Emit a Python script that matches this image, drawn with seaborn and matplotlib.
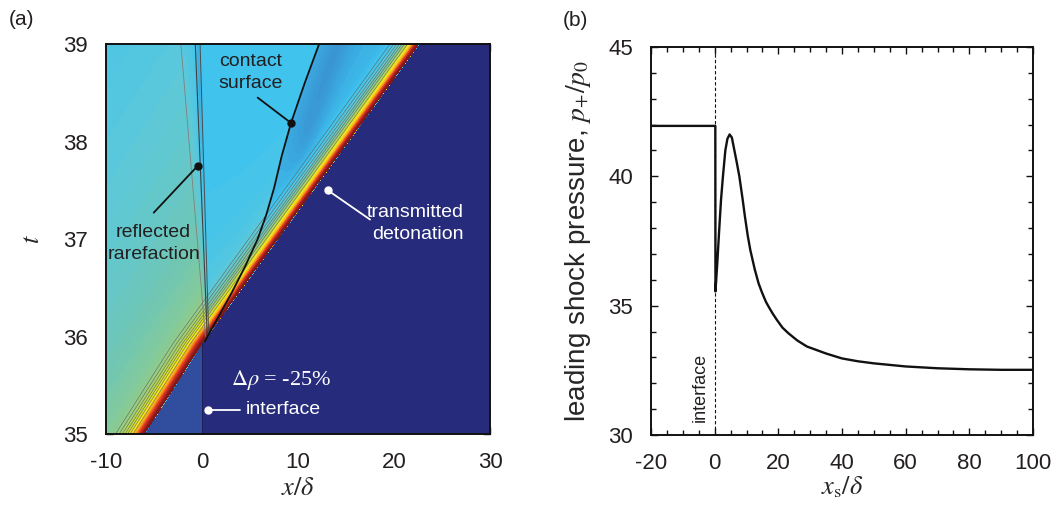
import numpy as np
import matplotlib
matplotlib.use("Agg")
import matplotlib.pyplot as plt
from matplotlib.colors import LinearSegmentedColormap
from matplotlib.ticker import MultipleLocator
import seaborn as sns

# ---------------- Panel (a): x-t diagram ----------
shock_t = [35.0, 35.93, 39.0]
shock_x = [-6.0, 0.0, 22.6]
contact_t = [35.95, 36.2, 36.45, 36.72, 37.0, 37.25, 37.52, 37.85, 38.19, 38.6, 39.0]
contact_x = [0.3, 1.7, 3.1, 4.5, 5.8, 6.7, 7.5, 8.3, 9.27, 10.7, 12.2]
rare_t = [36.0, 39.0]
rare_head_x = [0.35, -2.2]
rare_tail1_x = [0.55, -0.7]
rare_tail2_x = [0.7, -0.2]

# field levels of the colour map (normalised)
unburned_right = 0.0
unburned_left = 0.10
burned_far = 0.30
burned_mid = 0.31
burned_right = 0.26

# ---------------- Panel (b): leading shock pressure ------------------------------
xs_vals = [-20, 0.2, 0.25, 0.8, 1.36, 2.0, 2.6, 3.35, 4.0, 4.7, 5.4, 6.2, 7.0,
           7.75, 8.8, 9.5, 10.4, 11.2, 12.6, 13.8, 14.9, 16.1, 17.0, 18.3, 19.6,
           21.3, 23.2, 26.0, 29.0, 35.0, 40.0, 45.0, 50.0, 60.0, 70.0, 80.0, 90.0,
           100.0]
p_vals = [41.95, 41.95, 35.55, 36.6, 37.8, 39.1, 40.0, 41.0, 41.45, 41.62, 41.5,
          41.0, 40.5, 40.0, 39.1, 38.45, 37.7, 37.15, 36.4, 35.86, 35.5, 35.15,
          34.95, 34.68, 34.44, 34.15, 33.93, 33.65, 33.42, 33.15, 32.96, 32.85,
          32.77, 32.65, 32.58, 32.54, 32.52, 32.52]

sns.set_theme(style="ticks")
plt.rcParams["font.family"] = ["Liberation Sans", "DejaVu Sans"]
plt.rcParams["mathtext.fontset"] = "stix"
plt.rcParams["text.color"] = "#231f20"
plt.rcParams["axes.unicode_minus"] = False

fig = plt.figure(figsize=(10.62, 5.11), dpi=100)
ax1 = fig.add_axes([106/1062, 1-434/511, 384/1062, 390/511])
ax2 = fig.add_axes([651/1062, 1-435/511, 382/1062, 388/511])

# colour map built to mimic the reference palette
anchors = [(0.00, "#262a7a"), (0.06, "#2d3d93"), (0.10, "#3050a0"),
           (0.20, "#3a8fcc"), (0.25, "#3aa6df"), (0.31, "#3ec3ee"),
           (0.37, "#5cc8da"), (0.43, "#6ec6b6"), (0.51, "#90cb8a"),
           (0.61, "#c8da3a"), (0.70, "#f4e61a"), (0.80, "#f5a020"),
           (0.88, "#e63a20"), (0.95, "#a82020"), (1.00, "#7a1818")]
cmap = LinearSegmentedColormap.from_list("det", anchors)

x = np.linspace(-10, 30, 801)
t = np.linspace(35, 39, 401)
X, T = np.meshgrid(x, t)
XS = np.interp(T, shock_t, shock_x)
d = XS - X
dpos = np.clip(d, 0, None)
t_kink = shock_t[1]
speed_in = (shock_x[1] - shock_x[0]) / (shock_t[1] - shock_t[0])
t_pass = shock_t[0] + (X - shock_x[0]) / speed_in
tau = np.clip(T - t_pass, 0, None)
B_L = burned_far + 0.20 * np.exp(-tau / 3.0)
XC = np.interp(T, contact_t, contact_x)
XH = np.interp(T, rare_t, rare_head_x)
XT1 = np.interp(T, rare_t, rare_tail1_x)
XT2 = np.interp(T, rare_t, rare_tail2_x)
B_M = burned_mid + 0.04 * np.exp(-(T - t_kink) / 1.0)
B_R = burned_right - 0.05 * np.exp(-((X - XC - 2.0) / 1.5) ** 2) * np.clip((T - 37.3) / 0.8, 0, 1)
above = T > t_kink
w = np.clip((X - XH) / (XT2 - XH), 0, 1)
B = np.where(above, (1 - w) * B_L + w * B_M, B_L)
B = np.where(above & (X > XC), B_R, B)
B = B - 0.06 * np.exp(-((X - 0.5 * (XT1 + XT2)) / 0.25) ** 2) * np.clip((T - 37.0) / 1.5, 0, 1)
prof = 0.85 * np.exp(-(dpos / 1.3) ** 1.5) + 0.15 * np.exp(-dpos / 2.5)
V = B + (1 - B) * prof
V = np.where(d < 0, np.where(X < 0, unburned_left, unburned_right), V)

ax1.contourf(X, T, V, levels=np.linspace(0, 1, 101), cmap=cmap, vmin=0, vmax=1)
P = np.ma.masked_where(d < 0.02, prof)
ax1.contour(X, T, P, levels=[0.07, 0.1, 0.14, 0.19, 0.25, 0.33, 0.45],
            colors="0.35", linewidths=0.35)

# interface below the kink
ax1.plot([0, 0], [35.0, t_kink], color="#1c1f55", lw=0.7)
# rarefaction lines
sns.lineplot(x=rare_head_x, y=rare_t, ax=ax1, color="0.5", lw=0.6, sort=False, estimator=None)
sns.lineplot(x=rare_tail1_x, y=rare_t, ax=ax1, color="0.25", lw=0.8, sort=False, estimator=None)
sns.lineplot(x=rare_tail2_x, y=rare_t, ax=ax1, color="0.3", lw=0.7, sort=False, estimator=None)
# contact surface
sns.lineplot(x=contact_x, y=contact_t, ax=ax1, color="#111111", lw=1.3, sort=False, estimator=None)

ax1.set_xlim(-10, 30)
ax1.set_ylim(35, 39)

# annotations
fs_ann = 14
ls_ann = 1.4
ax1.text(5.1, 38.71, "contact\nsurface", ha="center", va="center", fontsize=fs_ann, linespacing=ls_ann)
ax1.plot([5.8, 9.27], [38.45, 38.19], color="#111111", lw=1.3)
ax1.plot([9.27], [38.19], "o", color="#111111", ms=5)
ax1.text(-5.05, 36.95, "reflected\nrarefaction", ha="center", va="center", fontsize=fs_ann, linespacing=ls_ann)
ax1.plot([-5.03, -0.45], [37.27, 37.75], color="#111111", lw=1.3)
ax1.plot([-0.45], [37.75], "o", color="#111111", ms=5)
ax1.text(27.3, 37.16, "transmitted\ndetonation", ha="right", va="center", fontsize=fs_ann,
         color="white", linespacing=ls_ann, multialignment="right")
ax1.plot([17.5, 13.1], [37.2, 37.5], color="white", lw=1.3)
ax1.plot([13.1], [37.5], "o", color="white", ms=5)
ax1.text(8.3, 35.55, r"$\Delta\rho$ = -25%", ha="center", va="center", fontsize=16,
         color="white", family=["Liberation Serif", "DejaVu Serif"])
ax1.plot([0.6, 4.0], [35.25, 35.25], color="white", lw=1.3)
ax1.plot([0.6], [35.25], "o", color="white", ms=5)
ax1.text(4.6, 35.25, "interface", ha="left", va="center", fontsize=fs_ann, color="white")

# ---------------- Panel (b) ----------------
ax2.axvline(0, color="#111111", lw=0.8, ls=(0, (3, 2)))
sns.lineplot(x=xs_vals, y=p_vals, ax=ax2, color="#111111", lw=1.7, sort=False, estimator=None)
ax2.text(-4.4, 30.5, "interface", rotation=90, ha="center", va="bottom", fontsize=13)
ax2.set_xlim(-20, 100)
ax2.set_ylim(30, 45)

# axes styling
for ax, (xmaj, xmin, ymaj, ymin) in [(ax1, (10, 2, 1, 0.2)), (ax2, (20, 5, 5, 1))]:
    ax.xaxis.set_major_locator(MultipleLocator(xmaj))
    ax.xaxis.set_minor_locator(MultipleLocator(xmin))
    ax.yaxis.set_major_locator(MultipleLocator(ymaj))
    ax.yaxis.set_minor_locator(MultipleLocator(ymin))
    ax.tick_params(which="both", direction="in", top=True, right=True, color="#111111", width=1.0)
    ax.tick_params(which="major", length=5, labelsize=16, pad=13, labelcolor="#231f20")
    ax.tick_params(which="minor", length=3.5)
    for s in ax.spines.values():
        s.set_visible(True)
        s.set_linewidth(1.4)
        s.set_color("#111111")

ax1.set_xlabel(r"$x/\delta$", fontsize=19, labelpad=2)
ax1.set_ylabel(r"$t$", fontsize=19, labelpad=14)
ax2.set_xlabel(r"$x_{\mathrm{s}}/\delta$", fontsize=19, labelpad=0)
ax2.set_ylabel(r"leading shock pressure, $p_{+}/p_{0}$", fontsize=20, labelpad=11)

fig.text(9/1062, 1-19/511, "(a)", fontsize=15, va="center", ha="left")
fig.text(563/1062, 1-21/511, "(b)", fontsize=15, va="center", ha="left")

fig.savefig("out.png", dpi=100)
